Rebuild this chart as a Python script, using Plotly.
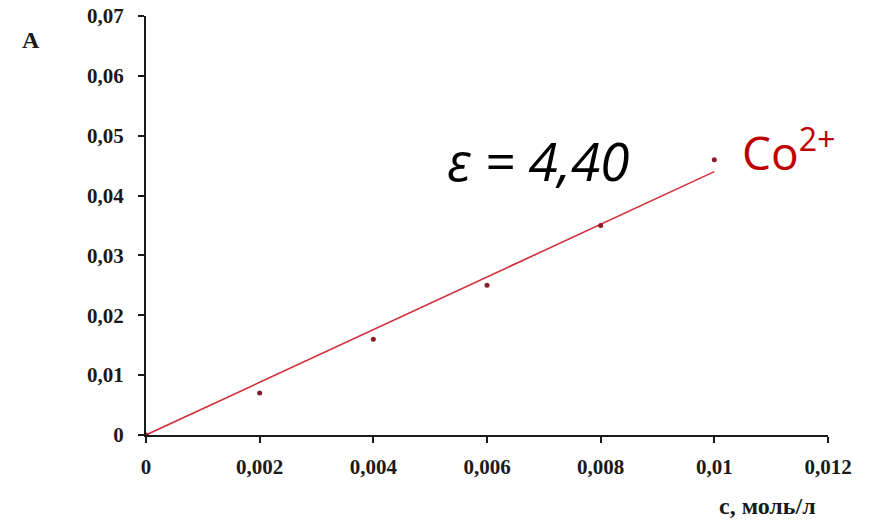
import plotly.graph_objects as go

# Absorbance of Co2+ versus concentration
conc = [0, 0.002, 0.004, 0.006, 0.008, 0.010]
absorb = [0, 0.007, 0.016, 0.025, 0.035, 0.046]
epsilon = 4.40
fit_x = [0, 0.010]
fit_y = [epsilon * x for x in fit_x]

x_ticks = [0, 0.002, 0.004, 0.006, 0.008, 0.010, 0.012]
x_labels = ["0", "0,002", "0,004", "0,006", "0,008", "0,01", "0,012"]
y_ticks = [0, 0.01, 0.02, 0.03, 0.04, 0.05, 0.06, 0.07]
y_labels = ["0", "0,01", "0,02", "0,03", "0,04", "0,05", "0,06", "0,07"]

tick_font = dict(family="Liberation Serif", size=21, color="#1a1a1a", weight="bold")

fig = go.Figure()
fig.add_trace(go.Scatter(x=fit_x, y=fit_y, mode="lines",
                         line=dict(color="#d0303a", width=1.6),
                         showlegend=False, hoverinfo="skip"))
fig.add_trace(go.Scatter(x=conc, y=absorb, mode="markers",
                         marker=dict(color="#8b1a2a", size=5),
                         showlegend=False))

fig.update_layout(
    width=875, height=526,
    margin=dict(l=146, r=47, t=16, b=91),
    plot_bgcolor="white", paper_bgcolor="white",
    xaxis=dict(range=[0, 0.012], tickvals=x_ticks, ticktext=x_labels,
               showgrid=False, zeroline=False, showline=True, automargin=False,
               linecolor="#1a1a1a", linewidth=2, ticks="outside",
               ticklen=6, tickwidth=2, tickcolor="#1a1a1a",
               tickfont=tick_font, ticklabelstandoff=6),
    yaxis=dict(range=[0, 0.07], tickvals=y_ticks, ticktext=y_labels,
               showgrid=False, zeroline=False, showline=True, automargin=False,
               linecolor="#1a1a1a", linewidth=2, ticks="outside",
               ticklen=6, tickwidth=2, tickcolor="#1a1a1a",
               tickfont=tick_font, ticklabelstandoff=10),
)

fig.add_annotation(xref="paper", yref="paper", x=-0.1686, y=0.943,
                   xanchor="center", yanchor="middle",
                   text="<b>A</b>", showarrow=False,
                   font=dict(family="Liberation Serif", size=24, color="#1a1a1a"))
fig.add_annotation(xref="paper", yref="paper", x=0.911, y=-0.170,
                   xanchor="center", yanchor="middle",
                   text="<b>c, моль/л</b>", showarrow=False,
                   font=dict(family="Liberation Serif", size=24, color="#1a1a1a"))
fig.add_annotation(x=0.0069, y=0.0458, xref="x", yref="y",
                   text="<i>ε = 4,40</i>", showarrow=False,
                   font=dict(family="Open Sans", size=53, color="black"))
fig.add_annotation(x=0.01046, y=0.0476, xref="x", yref="y", xanchor="left",
                   text="Co<sup>2+</sup>", showarrow=False,
                   font=dict(family="Open Sans", size=46, color="#c00000"))

fig.write_html("out.html")
